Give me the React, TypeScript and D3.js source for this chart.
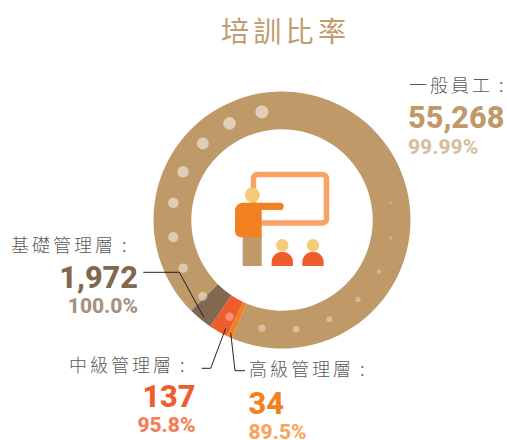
import React from 'react';
import * as d3 from 'd3';

const title = '培訓比率';
const categories = ['一般員工', '高級管理層', '中級管理層', '基礎管理層'];
const counts = ['55,268', '34', '137', '1,972'];
const rates = ['99.99%', '89.5%', '95.8%', '100.0%'];
// arc sweep as drawn in the picture (degrees), it is not proportional to the counts
const sweeps = [338, 2.4, 8.6, 11];
// decorative dots, going counter clockwise from the top
const dotAngles = [-10.5, -28.5, -46, -64, -81, -99, -116, -134, -151.5, -169.5, -187.4, -205.5, -223.7, -242, -260.6, -279, -297.6];
const dotSizes = [6.6, 6.3, 6, 5.7, 5.3, 5.1, 4.8, 4.6, 4.2, 3.6, 3.4, 3, 2.7, 2.2, 1.7, 1.4, 1];
const dotAlpha = [0.52, 0.52, 0.5, 0.5, 0.5, 0.48, 0.46, 0.44, 0.34, 0.36, 0.36, 0.34, 0.3, 0.28, 0.24, 0.2, 0.15];

const ringColors = ['#bf9a68', '#f28122', '#ef5d2d', '#826850'];
const rateColors = ['#d6bf9f', '#f9a45c', '#f47c56', '#a6927f'];
const countColors = ['#bf9a68', '#f28122', '#ef5d2d', '#826850'];

const width = 507;
const height = 440;
const cx = 282;
const cy = 220;
const outerR = 128.5;
const innerR = 90.7;
const dotR = 110;

const labelPos = [
  { x: 409, numX: 408, name: 92, count: 128, rate: 154, right: 0 },
  { x: 249, numX: 248.5, name: 376, count: 414, rate: 439, right: 0 },
  { x: 69, numX: 0, name: 372, count: 407, rate: 432, right: 195.5 },
  { x: 11, numX: 0, name: 252, count: 288, rate: 312.5, right: 138 }
];

const leaders: [number, number][][] = [
  [[143.3, 272.3], [179.3, 272.3], [204, 317.7]],
  [[201.7, 368.3], [210.7, 368.3], [225.7, 328.3]],
  [[230.7, 332.7], [235, 370.7], [245, 370.7]]
];

const cjk = '"Noto Sans CJK TC", sans-serif';
const num = 'Roboto, sans-serif';

function Icon() {
  return (
    <g>
      <rect x={253.5} y={174.5} width={73} height={48.5} rx={4} fill="#fff" stroke="#f9a266" strokeWidth={5.5} />
      <rect x={242.7} y={236} width={19} height={30} fill="#bf9a68" />
      <path
        d="M243,202.7 H280 a3.6,3.6 0 0 1 0,7.4 H261.7 V237.3 H241 a6,6 0 0 1 -6,-6 V210.7 a8,8 0 0 1 8,-8 Z"
        fill="#f28122"
      />
      <circle cx={252.3} cy={195} r={7.5} fill="#f5cb77" />
      {[282.3, 313].map(x => (
        <g key={x}>
          <circle cx={x} cy={245.3} r={6.2} fill="#f5cb77" />
          <path d={`M${x - 10.7},266 V262.4 a10.7,10.7 0 0 1 21.4,0 V266 Z`} fill="#ef5d2d" />
        </g>
      ))}
    </g>
  );
}

export default function App() {
  const pie = d3
    .pie<number>()
    .sort(null)
    .startAngle((225 * Math.PI) / 180)
    .endAngle((585 * Math.PI) / 180);
  const arc = d3.arc<d3.PieArcDatum<number>>().innerRadius(innerR).outerRadius(outerR);
  const slices = pie(sweeps);
  const lineGen = d3.line();

  return (
    <svg width={width} height={height} style={{ position: 'absolute', left: 0, top: 0, background: '#fff' }}>
      <text x={221} y={42} fontFamily={cjk} fontSize={28} letterSpacing={4.3} fill="#c19c6c">
        {title}
      </text>

      <g transform={`translate(${cx},${cy})`}>
        {slices.map((d, i) => (
          <path key={i} d={arc(d) || ''} fill={ringColors[i]} />
        ))}
        {dotSizes.map((r, i) => {
          const a = (dotAngles[i] * Math.PI) / 180;
          return <circle key={i} cx={dotR * Math.sin(a)} cy={-dotR * Math.cos(a)} r={r} fill="#fff" fillOpacity={dotAlpha[i]} />;
        })}
      </g>

      <Icon />

      {leaders.map((pts, i) => (
        <path key={i} d={lineGen(pts) || ''} fill="none" stroke="#222" strokeWidth={1} />
      ))}

      {categories.map((c, i) => {
        const p = labelPos[i];
        const numAnchor = p.right ? 'end' : 'start';
        const numX = p.right ? p.right : p.numX;
        return (
          <g key={c}>
            <text x={p.x} y={p.name} fontFamily={cjk} fontWeight={300} fontSize={18} letterSpacing={3} fill="#5a5a5a">
              {c}
              <tspan dx={6}>:</tspan>
            </text>
            <text x={numX} y={p.count} textAnchor={numAnchor} fontFamily={num} fontWeight={800} fontSize={30.7} fill={countColors[i]}>
              {counts[i]}
            </text>
            <text x={numX} y={p.rate} textAnchor={numAnchor} fontFamily={num} fontWeight={800} fontSize={21} fill={rateColors[i]}>
              {rates[i]}
            </text>
          </g>
        );
      })}
    </svg>
  );
}
